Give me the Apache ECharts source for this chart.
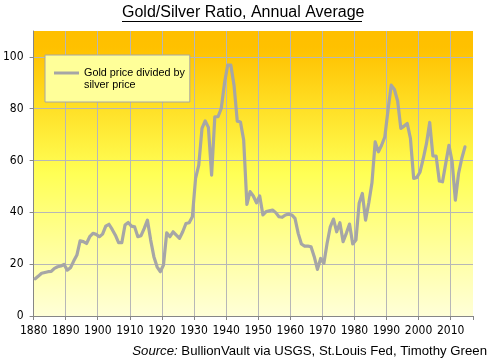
<!DOCTYPE html>
<html>
<head>
<meta charset="utf-8">
<script src="https://cdn.jsdelivr.net/npm/echarts@6/dist/echarts.min.js"></script>
<style>
html,body{margin:0;padding:0;background:#ffffff;}
#c{width:491px;height:364px;}
</style>
</head>
<body>
<div id="c"></div>
<script>
// ---- data ----
const firstYear = 1880;
const lastYear = 2016;           // axis runs through 2016 (category band)
const years = [];
for (let y = firstYear; y <= lastYear; y++) years.push(String(y));

// Gold / silver ratio, annual average, 1880 .. 2014
const ratio = [
  14.4, 15.4, 16.5, 16.8, 17.1, 17.2, 18.4, 19.0, 19.3, 19.9,   // 1880s
  17.7, 18.6, 21.2, 23.5, 29.0, 28.7, 28.0, 30.6, 31.9, 31.5,   // 1890s
  30.6, 31.6, 34.7, 35.4, 33.4, 31.2, 28.3, 28.3, 35.1, 36.1,   // 1900s
  34.7, 34.4, 30.6, 31.0, 33.8, 37.0, 29.3, 22.9, 19.0, 17.1,   // 1910s
  19.7, 32.1, 30.6, 32.5, 31.2, 30.0, 32.5, 35.7, 36.0, 38.3,   // 1920s
  53.1, 58.2, 72.4, 75.3, 72.8, 54.4, 76.9, 76.9, 80.1, 89.7,   // 1930s
  96.8, 96.8, 89.0, 75.2, 74.9, 67.9, 43.1, 48.0, 46.3, 43.7,   // 1940s
  46.3, 39.0, 40.3, 40.6, 40.9, 39.9, 38.3, 38.1, 39.0, 39.3,   // 1950s
  39.0, 37.7, 31.9, 27.8, 27.0, 27.0, 26.7, 22.9, 18.0, 22.2,   // 1960s
  20.3, 28.0, 34.4, 37.4, 32.5, 36.0, 28.7, 31.9, 35.5, 27.8,   // 1970s
  29.3, 43.5, 47.3, 37.0, 43.6, 51.4, 67.2, 63.4, 65.9, 69.1,   // 1980s
  79.4, 89.1, 87.4, 83.0, 72.4, 73.3, 74.3, 68.5, 53.1, 53.5,   // 1990s
  55.6, 60.8, 66.6, 74.7, 61.8, 61.7, 52.1, 51.8, 58.9, 65.9,   // 2000s
  59.5, 44.7, 55.0, 60.8, 65.3                                  // 2010s
];

const seriesName = 'Gold price divided by\nsilver price';
const titleText = 'Gold/Silver Ratio, Annual Average';
const sourceText = '{i|Source:} BullionVault via USGS, St.Louis Fed, Timothy Green';
const yMin = 0, yMax = 110, yStep = 20;
const xLabelEvery = 10;

// ---- chart ----
const FONT = '"Liberation Sans", Arial, sans-serif';
const NARROW = '"Liberation Sans Narrow", "Arial Narrow", "DejaVu Sans Condensed", sans-serif';
const chart = echarts.init(document.getElementById('c'), null, {renderer: 'canvas'});

const option = {
  animation: false,
  backgroundColor: '#ffffff',
  title: [
    {
      text: titleText,
      left: 122,
      top: 5,
      padding: 0,
      textStyle: {fontFamily: FONT, fontSize: 16, fontWeight: 'normal', color: '#000000'}
    },
    {
      text: sourceText,
      right: 4,
      top: 345,
      padding: 0,
      textStyle: {
        fontFamily: FONT, fontSize: 13.2, fontWeight: 'normal', color: '#000000',
        rich: {i: {fontFamily: FONT, fontSize: 13.2, fontStyle: 'italic', color: '#000000'}}
      }
    }
  ],
  graphic: [
    {type: 'line', shape: {x1: 122, y1: 21.5, x2: 362, y2: 21.5}, style: {stroke: '#000000', lineWidth: 1}, silent: true}
  ],
  legend: {
    show: true,
    left: 45,
    top: 55,
    orient: 'vertical',
    backgroundColor: '#FFFF99',
    borderColor: '#A6A6A6',
    borderWidth: 1,
    borderRadius: 0,
    padding: [0, 5, 11, 9],
    itemWidth: 25,
    itemHeight: 3,
    icon: 'rect',
    // leading blank line keeps the icon level with the first text line
    formatter: function (name) { return '\n' + name; },
    textStyle: {fontFamily: FONT, fontSize: 10.8, color: '#000000', lineHeight: 12},
    data: [{name: seriesName}]
  },
  grid: {
    left: 32, right: 18, top: 31, bottom: 48,
    show: true,
    borderWidth: 0,
    backgroundColor: new echarts.graphic.LinearGradient(0, 0, 0, 1, [
      {offset: 0, color: '#FFBF00'},
      {offset: 0.06, color: '#FFC100'},
      {offset: 0.25, color: '#FFDD22'},
      {offset: 0.5, color: '#FFFF55'},
      {offset: 0.75, color: '#FFFF99'},
      {offset: 1, color: '#FFFFD8'}
    ])
  },
  xAxis: {
    type: 'category',
    data: years,
    boundaryGap: true,
    axisLine: {show: true, lineStyle: {color: '#868686', width: 1}},
    axisTick: {show: true, interval: xLabelEvery - 1, length: 4, alignWithLabel: false, lineStyle: {color: '#868686'}},
    axisLabel: {interval: xLabelEvery - 1, fontFamily: NARROW, fontSize: 12, color: '#000000', margin: 9, padding: [0, 3, 0, 0]},
    splitLine: {show: true, interval: xLabelEvery - 1, showMaxLine: false, lineStyle: {color: '#B7B7B7', width: 1}}
  },
  yAxis: {
    type: 'value',
    min: yMin, max: yMax, interval: yStep,
    axisLine: {show: true, lineStyle: {color: '#868686', width: 1}},
    axisTick: {show: true, length: 4, lineStyle: {color: '#868686'}},
    axisLabel: {showMaxLabel: false, fontFamily: NARROW, fontSize: 12, color: '#000000', margin: 10},
    splitLine: {show: true, showMaxLine: false, lineStyle: {color: '#B7B7B7', width: 1}}
  },
  series: [
    {
      name: seriesName,
      type: 'line',
      data: ratio,
      symbol: 'none',
      showSymbol: false,
      lineStyle: {color: '#A6A6A6', width: 3.2, join: 'round', cap: 'round'},
      itemStyle: {color: '#A6A6A6'}
    }
  ]
};
chart.setOption(option);
</script>
</body>
</html>
